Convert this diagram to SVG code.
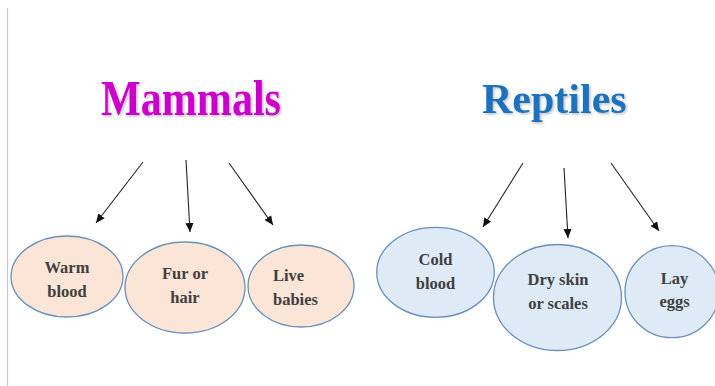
<svg xmlns="http://www.w3.org/2000/svg" width="715" height="386" viewBox="0 0 715 386">
<style>
.title{font-family:"Liberation Serif","Times New Roman",serif;font-weight:bold;filter:url(#sh);}
.lbl{font-family:"Liberation Serif","Times New Roman",serif;font-weight:bold;font-size:16.5px;fill:#404040;text-anchor:middle;}
.peach{fill:#FBE5D6;stroke:#6A8FBA;stroke-width:1.3;}
.blue{fill:#DEEBF7;stroke:#6A8FBA;stroke-width:1.3;}
.arr{stroke:#222;stroke-width:1.1;fill:none;marker-end:url(#ah);}
</style>
<defs>
<filter id="sh" x="-10%" y="-20%" width="120%" height="150%">
<feDropShadow dx="1.5" dy="1.5" stdDeviation="0.8" flood-color="#000" flood-opacity="0.25"/>
</filter>
<marker id="ah" viewBox="0 0 10 10" refX="10" refY="5" markerWidth="9" markerHeight="9" markerUnits="userSpaceOnUse" orient="auto">
<path d="M0,0.5 L10,5 L0,9.5 Z" fill="#111"/>
</marker>
</defs>
<rect width="715" height="386" fill="#fff"/>
<line x1="7.5" y1="8" x2="7.5" y2="386" stroke="#C8C8C8" stroke-width="1.2"/>
<g id="title-mammals">
<text class="title" x="101" y="115" font-size="51" fill="#CC00CC" textLength="180" lengthAdjust="spacingAndGlyphs">Mammals</text>
</g>
<g id="title-reptiles">
<text class="title" x="482" y="113" font-size="42" fill="#1B72BE">Reptiles</text>
</g>
<g id="connectors">
<line class="arr" x1="143" y1="162" x2="96" y2="223"/>
<line class="arr" x1="186" y1="160" x2="190" y2="232"/>
<line class="arr" x1="229" y1="163" x2="273" y2="225"/>
<line class="arr" x1="523" y1="163" x2="483" y2="227"/>
<line class="arr" x1="564" y1="168" x2="568" y2="238"/>
<line class="arr" x1="611" y1="163" x2="659" y2="231"/>
</g>
<g id="warm-blood">
<ellipse class="peach" cx="67" cy="276.5" rx="56" ry="40.5"/>
<text class="lbl" x="67" y="273">Warm</text>
<text class="lbl" x="67" y="297">blood</text>
</g>
<g id="fur-or-hair">
<ellipse class="peach" cx="185" cy="287.5" rx="60" ry="45.5"/>
<text class="lbl" x="185" y="279">Fur or</text>
<text class="lbl" x="185" y="303">hair</text>
</g>
<g id="live-babies">
<ellipse class="peach" cx="301" cy="286" rx="53" ry="41"/>
<text class="lbl" x="273" y="281" style="text-anchor:start">Live</text>
<text class="lbl" x="273" y="305" style="text-anchor:start">babies</text>
</g>
<g id="cold-blood">
<ellipse class="blue" cx="435.5" cy="272.3" rx="58.8" ry="45"/>
<text class="lbl" x="435.5" y="264.5">Cold</text>
<text class="lbl" x="435.5" y="288.5">blood</text>
</g>
<g id="dry-skin">
<ellipse class="blue" cx="557.5" cy="297.5" rx="64" ry="53"/>
<text class="lbl" x="558" y="284.5">Dry skin</text>
<text class="lbl" x="558" y="309">or scales</text>
</g>
<g id="lay-eggs">
<ellipse class="blue" cx="672" cy="291.7" rx="47" ry="46"/>
<text class="lbl" x="674.5" y="284">Lay</text>
<text class="lbl" x="674.5" y="306.5">eggs</text>
</g>
</svg>
